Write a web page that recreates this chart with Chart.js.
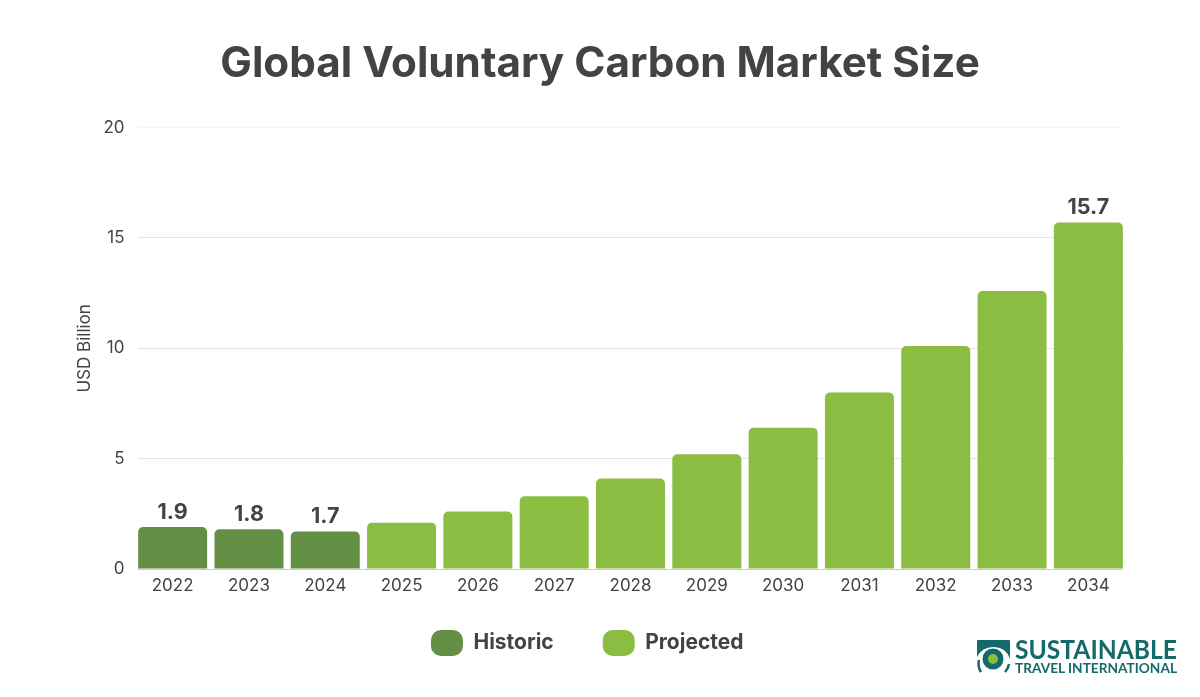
<!DOCTYPE html>
<html>
<head>
<meta charset="utf-8">
<title>Global Voluntary Carbon Market Size</title>
<script src="https://cdn.jsdelivr.net/npm/chart.js@4"></script>
<style>
  html, body { margin: 0; background: #fff; overflow: hidden; }
  #wrap { position: relative; width: 1200px; height: 697px; }
  #logo { position: absolute; left: 975px; top: 636px; }
</style>
</head>
<body>
<div id="wrap">
  <canvas id="chart" width="1200" height="697"></canvas>
  <svg id="logo" width="210" height="42" viewBox="0 0 210 42">
    <path d="M2 5 q0 -1 1 -1 h31 q1 0 1 1 v18 q-4 -12 -17 -12 q-11 0 -16 10z" fill="#136a6a"/>
    <circle cx="18" cy="23" r="10.5" fill="#136a6a"/>
    <path d="M6 36 a15 15 0 0 1 -2 -12" fill="none" stroke="#136a6a" stroke-width="2.5"/>
    <path d="M30 36 a15 15 0 0 0 4 -8" fill="none" stroke="#136a6a" stroke-width="2.5"/>
    <circle cx="18" cy="23" r="5" fill="#8abd41"/>
    <text x="40" y="23" textLength="162" lengthAdjust="spacingAndGlyphs" font-family="Lato" font-weight="700" font-size="26" fill="#136a6a">SUSTAINABLE</text>
    <text x="40" y="36.5" textLength="162" lengthAdjust="spacingAndGlyphs" font-family="Lato" font-weight="700" font-size="14" fill="#136a6a">TRAVEL INTERNATIONAL</text>
  </svg>
</div>
<script>
const FONT = "Inter";
const TEXT_COLOR = "#434343";
const COLOR_HISTORIC = "#638f44";
const COLOR_PROJECTED = "#8abd41";

const years = ["2022", "2023", "2024", "2025", "2026", "2027", "2028", "2029", "2030", "2031", "2032", "2033", "2034"];
const historic = [1.9, 1.8, 1.7, null, null, null, null, null, null, null, null, null, null];
const projected = [null, null, null, 2.1, 2.6, 3.3, 4.1, 5.2, 6.4, 8.0, 10.1, 12.6, 15.7];
const yTicks = [0, 5, 10, 15, 20];
// only these years carry a number above the bar
const labelledYears = ["2022", "2023", "2024", "2034"];

// Draw the value above the labelled bars
const barValues = {
  id: "barValues",
  afterDatasetsDraw(chart) {
    const ctx = chart.ctx;
    ctx.save();
    ctx.font = `700 21.5px ${FONT}`;
    ctx.fillStyle = TEXT_COLOR;
    ctx.textAlign = "center";
    ctx.textBaseline = "bottom";
    chart.data.datasets.forEach((ds, d) => {
      chart.getDatasetMeta(d).data.forEach((bar, i) => {
        if (ds.data[i] == null || !labelledYears.includes(years[i])) return;
        ctx.fillText(ds.data[i].toFixed(1), bar.x, bar.y - 4);
      });
    });
    ctx.restore();
  },
};

// Title centred on the page, legend pulled up closer to the axis
const placeBlocks = {
  id: "placeBlocks",
  afterLayout(chart) {
    chart.titleBlock.left = 0;
    chart.titleBlock.right = 1200;
    chart.legend.top -= 23;
    chart.legend.bottom -= 23;
  },
  // bars sit flush with the ends of the grid lines
  beforeDatasetsDraw(chart) {
    const { left, right, top, bottom } = chart.chartArea;
    chart.ctx.clearRect(left - 1, top - 2, 4.5, bottom - top + 4);
    chart.ctx.clearRect(right - 3.5, top - 2, 5, bottom - top + 4);
  },
};

new Chart(document.getElementById("chart"), {
  type: "bar",
  data: {
    labels: years,
    datasets: [
      { label: "Historic", data: historic, backgroundColor: COLOR_HISTORIC },
      { label: "Projected", data: projected, backgroundColor: COLOR_PROJECTED },
    ],
  },
  plugins: [barValues, placeBlocks],
  options: {
    responsive: false,
    animation: false,
    layout: { padding: { left: 48, right: 73.5, top: 0, bottom: 8 } },
    datasets: {
      bar: {
        barPercentage: 1,
        categoryPercentage: 0.904,
        borderRadius: { topLeft: 5, topRight: 5, bottomLeft: 0, bottomRight: 0 },
        borderSkipped: false,
      },
    },
    scales: {
      x: {
        stacked: true,
        afterFit: (s) => { s.height = 35; },
        border: { color: "#cccccc" },
        grid: { display: false, drawTicks: false },
        ticks: { color: TEXT_COLOR, font: { family: FONT, size: 17 }, padding: 7, maxRotation: 0, autoSkip: false },
      },
      y: {
        stacked: true,
        min: 0,
        max: 20,
        afterFit: (s) => { s.width = 86.5; },
        afterBuildTicks: (s) => { s.ticks = yTicks.map((value) => ({ value })); },
        border: { display: false },
        grid: {
          drawTicks: false,
          color: (c) => (c.tick.value === 20 ? "#f5f5f5" : c.tick.value === 0 ? "#cccccc" : "#e3e3e3"),
        },
        ticks: { color: TEXT_COLOR, font: { family: FONT, size: 17 }, padding: 10 },
        title: { display: true, text: "USD Billion", color: TEXT_COLOR, font: { family: FONT, size: 17 }, padding: { top: 27, bottom: 0 } },
      },
    },
    plugins: {
      title: {
        display: true,
        text: "Global Voluntary Carbon Market Size",
        color: TEXT_COLOR,
        font: { family: FONT, size: 42.2, weight: "700", lineHeight: 1.2 },
        padding: { top: 39, bottom: 38 },
      },
      legend: {
        position: "bottom",
        labels: {
          boxWidth: 32,
          boxHeight: 26,
          useBorderRadius: true,
          borderRadius: 10,
          padding: 49,
          color: TEXT_COLOR,
          font: { family: FONT, size: 21, weight: "700" },
        },
      },
      tooltip: { enabled: false },
    },
  },
});
</script>
</body>
</html>
